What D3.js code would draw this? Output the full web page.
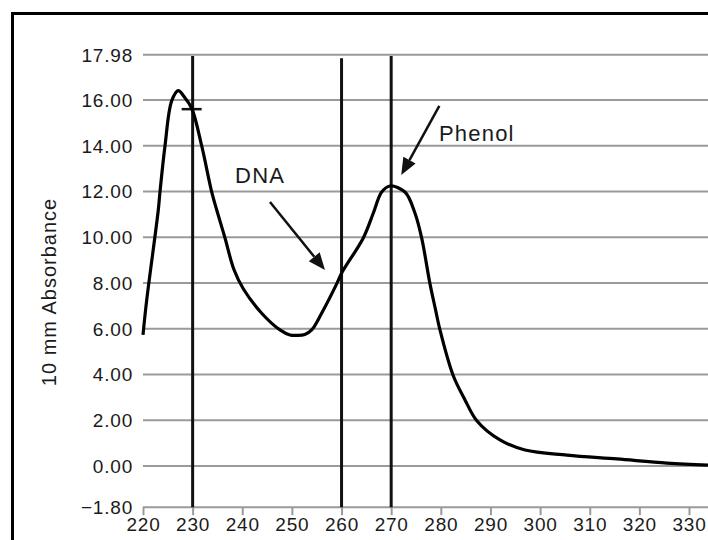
<!DOCTYPE html>
<html>
<head>
<meta charset="utf-8">
<script src="https://cdn.jsdelivr.net/npm/d3@7/dist/d3.min.js"></script>
<style>
  html, body { margin: 0; padding: 0; background: #fff; }
  svg { display: block; }
  text { font-family: "Liberation Sans", Arial, Helvetica, sans-serif; fill: #1a1a1a; }
</style>
</head>
<body>
<svg id="chart" width="708" height="540"></svg>
<script>
// ---- data ----
const wavelengths = [220.0, 220.75, 223.08, 223.42, 224.43, 225.78, 227.11, 228.26, 229.81, 231.83,
  233.84, 234.85, 236.52, 238.3, 240.2, 243.91, 247.60, 249.6, 251.02, 252.6, 253.98, 255.99, 259.02,
  260.03, 264.38, 266.39, 268.09, 269.76, 272.78, 274.80, 276.14, 277.82, 278.82,
  279.83, 282.45, 284.87, 287.29, 291.92, 296.96, 305.42, 315.49, 325.56, 333.82];
const absorbance = [5.73, 7.26, 11.19, 11.98, 13.99, 15.96, 16.41, 16.15, 15.64, 13.99,
  11.98, 11.19, 9.97, 8.6, 7.75, 6.68, 5.95, 5.73, 5.71, 5.75, 5.95, 6.68, 7.96,
  8.44, 9.97, 11.05, 11.98, 12.24, 11.98, 11.05, 9.97, 7.96, 6.95,
  5.95, 3.98, 2.89, 1.97, 1.14, 0.70, 0.48, 0.31, 0.13, 0.04];
const xTicks = [220, 230, 240, 250, 260, 270, 280, 290, 300, 310, 320, 330];
const yTicks = [-1.80, 0, 2, 4, 6, 8, 10, 12, 14, 16, 17.98];
const referenceLines = [230, 260, 270];
const referenceTops = [17.92, 17.82, 17.92];
const markers = [{ wl: 230, abs: 15.6 }];
const annotationLabels = ["DNA", "Phenol"];
const labelAt = [{ wl: 243.6, abs: 12.37 }, { wl: 279.63, abs: 14.22 }];
const arrowFrom = [{ wl: 245.58, abs: 11.54 }, { wl: 279.7, abs: 15.74 }];
const arrowTo = [{ wl: 256.66, abs: 8.57 }, { wl: 272.03, abs: 12.72 }];
const yAxisTitle = "10 mm Absorbance";

// ---- layout ----
const svg = d3.select("#chart");
const x = d3.scaleLinear().domain([220, 330]).range([143, 689]);
const y = d3.scaleLinear().domain([-1.8, 17.98]).range([507.2, 54.7]);
const rightEdge = 708;

// frame
svg.append("rect").attr("x", 12.5).attr("y", 13.5).attr("width", 720).attr("height", 560)
  .attr("fill", "none").attr("stroke", "#000").attr("stroke-width", 3);

// horizontal grid lines (incl. bottom axis line)
svg.append("g").selectAll("line").data(yTicks).join("line")
  .attr("x1", x(220)).attr("x2", rightEdge)
  .attr("y1", d => y(d)).attr("y2", d => y(d))
  .attr("stroke", "#9a9a9a").attr("stroke-width", 2);

// y tick labels
svg.append("g").selectAll("text").data(yTicks).join("text")
  .attr("x", 133).attr("y", d => y(d))
  .attr("dy", "0.36em").attr("text-anchor", "end")
  .attr("font-size", 19).attr("letter-spacing", 0.8)
  .text(d => d3.format(".2f")(d));

// x axis ticks
const xAxis = d3.axisBottom(x).tickValues(xTicks).tickSize(8).tickPadding(2).tickFormat(d3.format("d"));
const gx = svg.append("g").attr("transform", `translate(0,${y(-1.8)})`).call(xAxis);
gx.select(".domain").remove();
gx.selectAll(".tick line").attr("stroke", "#9a9a9a").attr("stroke-width", 2);
gx.selectAll(".tick text").attr("font-size", 19).attr("letter-spacing", 0.8).attr("fill", "#1a1a1a")
  .attr("font-family", '"Liberation Sans", Arial, sans-serif');

// y axis title
svg.append("text")
  .attr("transform", `translate(56,${292}) rotate(-90)`)
  .attr("text-anchor", "middle").attr("font-size", 20).attr("letter-spacing", 1)
  .text(yAxisTitle);

// vertical reference lines
svg.append("g").selectAll("line").data(referenceLines).join("line")
  .attr("x1", d => x(d)).attr("x2", d => x(d))
  .attr("y1", (d, i) => y(referenceTops[i])).attr("y2", y(-1.8))
  .attr("stroke", "#111").attr("stroke-width", 3);

// marker dash
svg.append("g").selectAll("line").data(markers).join("line")
  .attr("x1", d => x(d.wl) - 11).attr("x2", d => x(d.wl) + 9)
  .attr("y1", d => y(d.abs)).attr("y2", d => y(d.abs))
  .attr("stroke", "#111").attr("stroke-width", 2.5);

// spectrum
const pts = wavelengths.map((w, i) => [w, absorbance[i]]);
svg.append("path").datum(pts)
  .attr("d", d3.line().x(d => x(d[0])).y(d => y(d[1])).curve(d3.curveCatmullRom.alpha(0.5)))
  .attr("fill", "none").attr("stroke", "#000").attr("stroke-width", 3.2)
  .attr("stroke-linejoin", "round");

// annotations
const ann = svg.append("g");
annotationLabels.forEach((t, i) => {
  ann.append("text").attr("x", x(labelAt[i].wl)).attr("y", y(labelAt[i].abs))
    .attr("text-anchor", i === 0 ? "middle" : "start").attr("font-size", 22)
    .attr("letter-spacing", 1.2).text(t);
  const x1 = x(arrowFrom[i].wl), y1 = y(arrowFrom[i].abs);
  const x2 = x(arrowTo[i].wl), y2 = y(arrowTo[i].abs);
  const ang = Math.atan2(y2 - y1, x2 - x1);
  const hl = 17, hw = 7;
  const bx = x2 - hl * Math.cos(ang), by = y2 - hl * Math.sin(ang);
  ann.append("line").attr("x1", x1).attr("y1", y1).attr("x2", bx).attr("y2", by)
    .attr("stroke", "#111").attr("stroke-width", 2.5);
  const px = -Math.sin(ang), py = Math.cos(ang);
  ann.append("path")
    .attr("d", `M${x2},${y2}L${bx + hw * px},${by + hw * py}L${bx - hw * px},${by - hw * py}Z`)
    .attr("fill", "#111");
});
</script>
</body>
</html>
